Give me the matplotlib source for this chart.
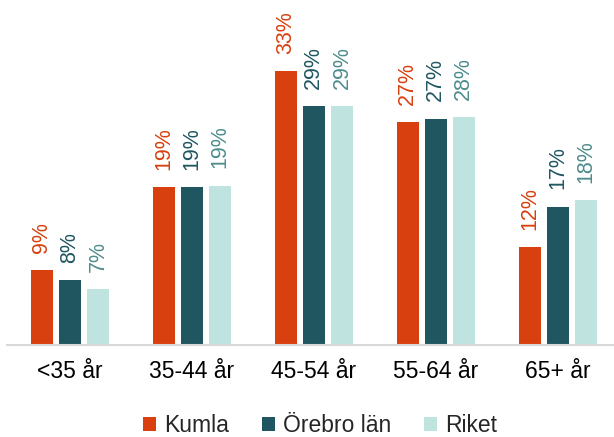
import matplotlib.pyplot as plt
import numpy as np

groups = ['<35 år', '35-44 år', '45-54 år', '55-64 år', '65+ år']
series = ['Kumla', 'Örebro län', 'Riket']
kumla = [9.0, 19.0, 33.0, 26.9, 11.8]
orebro = [7.8, 19.0, 28.8, 27.3, 16.7]
riket = [6.7, 19.2, 28.8, 27.5, 17.5]
labels = [['9%', '19%', '33%', '27%', '12%'],
          ['8%', '19%', '29%', '27%', '17%'],
          ['7%', '19%', '29%', '28%', '18%']]

bar_colors = ['#D8400F', '#1F5660', '#BFE4E0']
text_colors = ['#D8400F', '#1F5660', '#4E8C8C']

plt.rcParams['font.family'] = ['Liberation Sans', 'DejaVu Sans']

fig = plt.figure(figsize=(6.14, 4.37), dpi=100)
ax = fig.add_axes([6.6 / 614, 92 / 437, 606 / 614, 345 / 437])

x = np.arange(len(groups))
step = 0.23
width = 0.18
for i, (vals, name) in enumerate(zip([kumla, orebro, riket], series)):
    pos = x + (i - 1) * step
    bars = ax.bar(pos, vals, width, color=bar_colors[i], label=name)
    for b, lab in zip(bars, labels[i]):
        ax.annotate(lab, (b.get_x() + b.get_width() / 2, b.get_height()),
                    xytext=(0, 12.5), textcoords='offset points',
                    rotation=90, ha='center', va='bottom',
                    fontsize=15.5, color=text_colors[i])

ax.set_xlim(-0.52, 4.45)
ax.set_ylim(0, 41.6)
ax.set_xticks(x)
ax.set_xticklabels(groups, fontsize=16.5)
ax.tick_params(axis='x', length=0, pad=11)
ax.set_yticks([])
for s in ['top', 'right', 'left']:
    ax.spines[s].set_visible(False)
ax.spines['bottom'].set_color('#D9D9D9')
ax.spines['bottom'].set_linewidth(1.5)

fig.legend(loc='center', bbox_to_anchor=(320 / 614, 1 - 426 / 437), ncol=3,
           frameon=False, fontsize=16.5, handlelength=0.55, handleheight=0.55,
           handletextpad=0.35, columnspacing=1.45, labelcolor='#262626',
           borderaxespad=0, borderpad=0.1)

fig.savefig('out.png', dpi=100)
